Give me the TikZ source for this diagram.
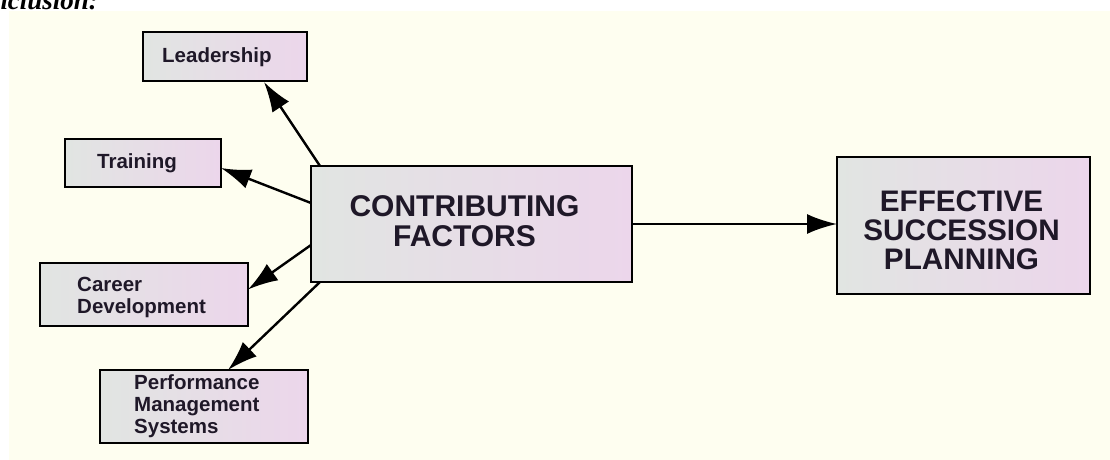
\documentclass[tikz,border=0pt]{standalone}
\usepackage{fontspec}
\usetikzlibrary{arrows.meta}
\newfontfamily\labfont{Liberation Sans}
\newfontfamily\headfont{Liberation Serif}
\definecolor{cream}{HTML}{FEFEF0}
\definecolor{boxleft}{HTML}{E1E5E2}
\definecolor{boxright}{HTML}{ECD6EB}
\definecolor{ink}{HTML}{1F1828}
\tikzset{
  box/.style={draw=black, line width=2.6pt, left color=boxleft, right color=boxright,
    rectangle, inner sep=0pt, outer sep=0pt},
  small/.style={font=\labfont\bfseries\fontsize{20.5pt}{22pt}\selectfont, text=ink, align=left, inner sep=0pt},
  big/.style={font=\labfont\bfseries\fontsize{30pt}{30pt}\selectfont, text=ink, align=center, inner sep=0pt},
  conn/.style={line width=2.4pt, -{Latex[length=30pt,width=20pt]}}
}
\begin{document}
\begin{tikzpicture}[x=1pt,y=-1pt]
\useasboundingbox (0,0) rectangle (1110,460);
\fill[white] (0,0) rectangle (1110,460);
\fill[cream] (9,11) rectangle (1110,460);
\begin{scope}
\clip (0,0) rectangle (1110,460);
\node[font=\headfont\bfseries\itshape\fontsize{27pt}{28pt}\selectfont, anchor=base east, inner sep=0pt] (concl) at (98,10) {Conclusion:};
\end{scope}

% boxes
\node[box, minimum width=164pt, minimum height=49pt] (lead) at (225,56.5) {};
\node[box, minimum width=156pt, minimum height=48pt] (train) at (143,163) {};
\node[box, minimum width=208pt, minimum height=63pt] (career) at (144,294.5) {};
\node[box, minimum width=208pt, minimum height=73pt] (perf) at (204,406.5) {};
\node[box, minimum width=321pt, minimum height=116pt] (cf) at (471.5,224) {};
\node[box, minimum width=253pt, minimum height=137pt] (esp) at (963.5,225.5) {};

% texts
\node[small, anchor=west] (leadt) at ([xshift=19pt,yshift=-1pt]lead.west) {Leadership};
\node[small, anchor=west] (traint) at ([xshift=32pt]train.west) {Training};
\node[small, anchor=west] (careert) at ([xshift=37pt,yshift=-3pt]career.west) {Career\\Development};
\node[small, anchor=west] (perft) at ([xshift=34pt]perf.west) {Performance\\Management\\Systems};
\node[big] (cft) at ([xshift=-7pt,yshift=3pt]cf.center) {CONTRIBUTING\\FACTORS};
\node[big, font=\labfont\bfseries\fontsize{29.7pt}{29pt}\selectfont] (espt) at ([xshift=-2pt,yshift=-5pt]esp.center) {EFFECTIVE\\SUCCESSION\\PLANNING};

% connectors
\draw[conn] ([xshift=9pt]cf.north west) -- ([xshift=39pt,yshift=-1pt]lead.south);
\draw[conn] ([yshift=21pt]cf.west) -- ([yshift=-5pt]train.east);
\draw[conn] ([yshift=-21pt]cf.west) -- ([yshift=5pt]career.east);
\draw[conn] ([xshift=9pt]cf.south west) -- ([xshift=24pt]perf.north);
\draw[conn] (cf.east) -- (cf.east -| esp.west);
\end{tikzpicture}
\end{document}
